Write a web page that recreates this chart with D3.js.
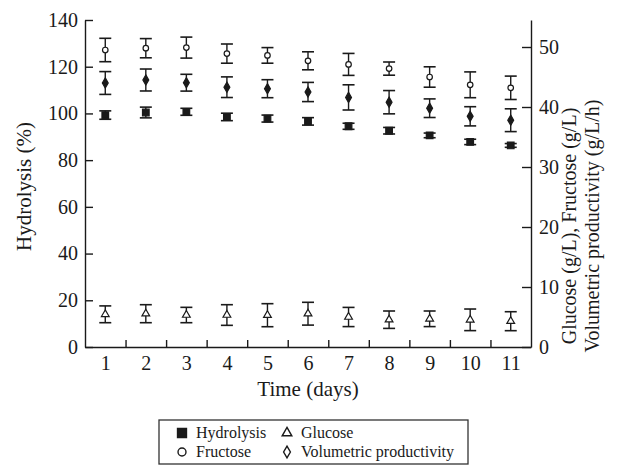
<!DOCTYPE html>
<html>
<head>
<meta charset="utf-8">
<script src="https://cdn.jsdelivr.net/npm/d3@7"></script>
<style>
  body { margin: 0; background: #fff; }
  svg { display: block; }
  .axis path, .axis line { stroke: #1a1a1a; stroke-width: 1.4; }
</style>
</head>
<body>
<div id="chart"></div>
<script>
// Repeated batch hydrolysis over 11 days.
// Hydrolysis on the left axis (%), the three concentrations on the right axis.

const days = [1, 2, 3, 4, 5, 6, 7, 8, 9, 10, 11];

const hydrolysis    = [99.3, 100.4, 100.7, 98.5, 97.8, 96.6, 94.5, 92.6, 90.6, 87.8, 86.3];
const hydrolysisErr = [1.8, 2.3, 1.5, 1.6, 1.5, 1.6, 1.3, 1.4, 1.0, 1.15, 0.8];

const fructose    = [49.5, 49.8, 49.9, 48.9, 48.6, 47.7, 47.1, 46.4, 45.0, 43.7, 43.2];
const fructoseErr = [1.95, 1.6, 1.75, 1.6, 1.3, 1.5, 1.83, 1.1, 1.7, 2.15, 1.95];

const productivity    = [44.0, 44.5, 44.05, 43.3, 43.05, 42.5, 41.6, 40.8, 39.8, 38.45, 37.8];
const productivityErr = [1.9, 1.83, 1.4, 1.72, 1.5, 1.6, 2.1, 1.94, 1.55, 1.6, 1.9];

const glucose    = [5.45, 5.55, 5.33, 5.33, 5.3, 5.55, 5.0, 4.55, 4.7, 4.53, 4.3];
const glucoseErr = [1.4, 1.5, 1.28, 1.72, 1.92, 1.9, 1.6, 1.45, 1.3, 1.8, 1.58];

const leftTicks  = [0, 20, 40, 60, 80, 100, 120, 140];
const rightTicks = [0, 10, 20, 30, 40, 50];
const dayTicks   = [1.5, 2.5, 3.5, 4.5, 5.5, 6.5, 7.5, 8.5, 9.5, 10.5];

(function () {
  "use strict";

  const W = 622, H = 467;
  const m = { top: 20, right: 91, bottom: 120, left: 85 };
  const ink = "#1a1a1a";
  const serif = "'Liberation Serif', 'Times New Roman', serif";

  const svg = d3.select("#chart").append("svg")
    .attr("width", W).attr("height", H)
    .attr("font-family", serif);

  const x = d3.scaleLinear().domain([0.5, 11.5]).range([m.left, W - m.right]);
  const yL = d3.scaleLinear().domain([0, 140]).range([H - m.bottom, m.top]);
  const yR = d3.scaleLinear().domain([0, 54.5]).range([H - m.bottom, m.top]);

  // axis tick text in the same serif as the rest
  function serifTicks(g) {
    g.attr("font-family", serif).attr("font-size", 20);
    g.selectAll("text").attr("fill", ink);
  }

  // --- axes (ticks point inward) ---
  svg.append("g").attr("class", "axis")
    .attr("transform", `translate(${m.left},0)`)
    .call(d3.axisLeft(yL).tickValues(leftTicks).tickSize(-8).tickSizeOuter(0).tickPadding(7))
    .call(serifTicks);

  svg.append("g").attr("class", "axis")
    .attr("transform", `translate(${W - m.right},0)`)
    .call(d3.axisRight(yR).tickValues(rightTicks).tickSize(-9).tickSizeOuter(0).tickPadding(8))
    .call(serifTicks);

  const bottom = svg.append("g").attr("class", "axis")
    .attr("transform", `translate(0,${H - m.bottom})`);
  bottom.call(d3.axisBottom(x).tickValues(dayTicks).tickSize(-7).tickSizeOuter(0).tickFormat(""));
  bottom.append("g")
    .call(d3.axisBottom(x).tickValues(days).tickSize(0).tickPadding(9))
    .call((g) => g.select(".domain").remove())
    .call(serifTicks);

  // axis titles
  svg.append("text")
    .attr("transform", `translate(31,${(yL(0) + yL(140)) / 2 + 3}) rotate(-90)`)
    .attr("text-anchor", "middle").attr("font-size", 21).attr("fill", ink)
    .text("Hydrolysis (%)");

  svg.append("text")
    .attr("x", (x(0.5) + x(11.5)) / 2).attr("y", H - m.bottom + 49)
    .attr("text-anchor", "middle").attr("font-size", 21).attr("fill", ink)
    .text("Time (days)");

  const rTitle = svg.append("text")
    .attr("transform", `translate(576,226) rotate(-90)`)
    .attr("text-anchor", "middle").attr("font-size", 20).attr("fill", ink);
  rTitle.append("tspan").attr("x", 0).attr("dy", 0).text("Glucose (g/L), Fructose (g/L)");
  rTitle.append("tspan").attr("x", 0).attr("dy", 23).text("Volumetric productivity (g/L/h)");

  // --- series ---
  const series = [
    { name: "Glucose", values: glucose, err: glucoseErr, y: yR, shape: "triangle", fill: "#fff" },
    { name: "Hydrolysis", values: hydrolysis, err: hydrolysisErr, y: yL, shape: "square", fill: ink },
    { name: "Volumetric productivity", values: productivity, err: productivityErr, y: yR, shape: "diamond", fill: ink },
    { name: "Fructose", values: fructose, err: fructoseErr, y: yR, shape: "circle", fill: "#fff" },
  ];

  const symbolOf = {
    square: d3.symbol(d3.symbolSquare, 44),
    circle: d3.symbol(d3.symbolCircle, 24),
    diamond: d3.symbol(d3.symbolDiamond, 30),
    triangle: d3.symbol(d3.symbolTriangle, 26),
  };

  const cap = 6;
  series.forEach((s) => {
    const g = svg.append("g");
    days.forEach((d, i) => {
      const cx = x(d);
      const top = s.y(s.values[i] + s.err[i]);
      const bot = s.y(s.values[i] - s.err[i]);
      g.append("line").attr("x1", cx).attr("x2", cx).attr("y1", top).attr("y2", bot)
        .attr("stroke", ink).attr("stroke-width", 1.4);
      [top, bot].forEach((yy) => {
        g.append("line").attr("x1", cx - cap).attr("x2", cx + cap).attr("y1", yy).attr("y2", yy)
          .attr("stroke", ink).attr("stroke-width", 1.6);
      });
      g.append("path").attr("d", symbolOf[s.shape]())
        .attr("transform", `translate(${cx},${s.y(s.values[i])})`)
        .attr("fill", s.fill).attr("stroke", ink).attr("stroke-width", 1.2);
    });
  });

  // --- legend ---
  const leg = svg.append("g").attr("transform", "translate(159,420)");
  leg.append("rect").attr("width", 309).attr("height", 44)
    .attr("fill", "#fff").attr("stroke", "#333").attr("stroke-width", 1.3);

  const legendItems = [
    { label: "Hydrolysis", shape: "square", fill: ink, col: 0, row: 0 },
    { label: "Glucose", shape: "triangle", fill: "#fff", col: 1, row: 0 },
    { label: "Fructose", shape: "circle", fill: "#fff", col: 0, row: 1 },
    { label: "Volumetric productivity", shape: "diamond", fill: "#fff", col: 1, row: 1 },
  ];
  const legSym = {
    square: d3.symbol(d3.symbolSquare, 80),
    circle: d3.symbol(d3.symbolCircle, 50),
    diamond: d3.symbol(d3.symbolDiamond, 40),
    triangle: d3.symbol(d3.symbolTriangle, 40),
  };
  legendItems.forEach((it) => {
    const gx = it.col === 0 ? 23 : 128;
    const gy = it.row === 0 ? 13 : 32;
    leg.append("path").attr("d", legSym[it.shape]())
      .attr("transform", `translate(${gx},${gy})`)
      .attr("fill", it.fill).attr("stroke", ink).attr("stroke-width", 1.4);
    leg.append("text").attr("x", gx + 14).attr("y", gy + 5)
      .attr("font-size", 16).attr("fill", ink).text(it.label);
  });
})();
</script>
</body>
</html>
